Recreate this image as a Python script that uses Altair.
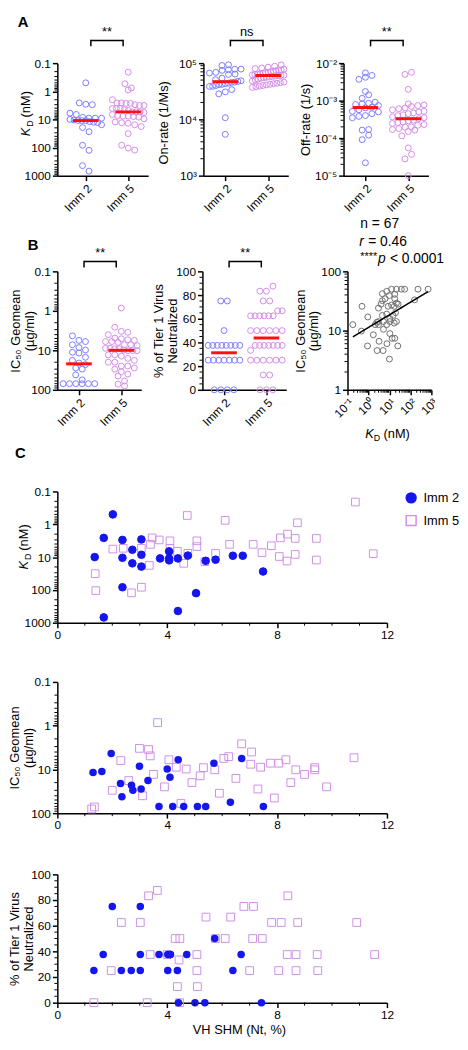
import altair as alt
import numpy as np
import pandas as pd

FONT = "Liberation Sans"
GROUPS = ["Imm 2", "Imm 5"]
BLUE_O = "#7c7cff"
PURP_O = "#d48be8"
BLUE_F = "#1515ee"
PURP_S = "#cf8fe8"
RED = "#ff1010"
GRAY = "#707070"

# ---------------- data ----------------
# Panel C1 (also A1): KD (nM) vs VH SHM (Nt, %)
C1_SHM_IMM2 = [1.36, 1.69, 2.02, 2.37, 2.37, 2.37, 2.73, 2.73, 3.06, 3.06, 3.06, 3.74, 4.07, 4.07, 4.07,
               4.39, 4.75, 5.05, 5.40, 5.76, 6.39, 6.75, 7.49, 1.69, 4.39]
C1_KD_IMM2 = [10, 2.6, 0.5, 3.0, 10.5, 83, 6.0, 15.5, 2.9, 8.5, 19.5, 11, 6.7, 11, 12.6,
              11, 9.0, 126, 13, 12, 9.1, 9.1, 27.5, 690, 440]
C1_SHM_IMM5 = [1.38, 1.40, 2.02, 2.40, 2.70, 3.06, 3.06, 3.35, 3.39, 3.45, 3.71, 4.10, 4.10, 4.37, 4.60,
               4.73, 4.75, 5.08, 5.08, 5.37, 5.76, 6.11, 6.27, 7.13, 7.45, 7.79, 8.08, 8.12, 8.36, 8.38,
               8.66, 8.66, 8.74, 9.43, 9.43, 10.85, 11.5]
C1_KD_IMM5 = [32, 105, 5.7, 5.4, 123, 83, 5.4, 18, 4.1, 2.6, 3.0, 3.2, 5.4, 6.7, 15.5,
              0.54, 7.7, 3.2, 4.8, 13.8, 7.7, 0.76, 4.1, 4.1, 7.3, 4.5, 9.6, 2.6, 13.2, 2.0,
              2.7, 8.3, 0.9, 2.7, 12.3, 0.21, 7.9]

# Panel C2 (also B1): IC50 geomean (ug/ml) vs VH SHM
C2_SHM_IMM2 = [1.30, 1.62, 1.96, 2.30, 2.35, 2.70, 2.75, 2.99, 3.05, 3.30, 3.70, 4.00, 4.10, 4.20, 4.60,
               5.10, 5.40, 5.70, 6.30, 6.71, 7.50, 4.40]
C2_IC_IMM2 = [11.7, 11.2, 4.3, 21, 42, 23, 30, 8.5, 28, 18, 70, 9.8, 15, 70, 70,
              70, 70, 7.2, 56, 5.6, 70, 6.0]
C2_SHM_IMM5 = [2.31, 2.99, 3.32, 3.38, 3.65, 4.06, 4.33, 4.69, 5.32, 5.73, 6.06, 6.24, 6.71, 7.07, 7.04,
               7.40, 7.76, 8.06, 8.32, 8.68, 9.37, 9.37, 10.8,
               1.25, 1.35, 2.00, 2.60, 3.10, 3.50, 3.90, 4.50, 4.90, 5.20, 5.90, 6.50, 7.30, 7.90, 8.50,
               9.00, 9.80]
C2_IC_IMM5 = [6.3, 3.3, 3.5, 4.9, 0.85, 6.0, 8.9, 9.8, 9.1, 10.2, 5.6, 5.1, 2.6, 4.0, 7.6,
              8.9, 7.2, 7.2, 6.0, 10.2, 9.1, 10.2, 5.4,
              80, 72, 30, 18, 40, 13, 25, 60, 20, 14, 35, 16, 28, 45, 20,
              13, 25]

# Panel C3 (also B2): % of Tier 1 virus neutralized vs VH SHM
C3_SHM_IMM2 = [1.33, 1.67, 2.00, 2.33, 2.69, 3.02, 3.02, 3.02, 3.70, 4.02, 4.02, 4.12, 4.37, 4.41, 4.71,
               5.01, 5.37, 5.73, 6.39, 6.69, 7.43, 4.10]
C3_PCT_IMM2 = [25, 37.5, 75, 25, 25, 25, 37.5, 75, 37.5, 25, 37.5, 37.5, 25, 0, 37.5,
               0, 0, 50, 25, 37.5, 0, 37.5]
C3_SHM_IMM5 = [1.33, 1.96, 2.33, 3.02, 3.27, 3.32, 3.64, 3.38, 4.00, 4.29, 4.46, 4.43, 4.37, 5.08, 5.08,
               5.41, 5.75, 6.11, 6.31, 6.79, 7.14, 7.11, 7.46, 7.80, 8.15, 8.39, 8.75, 8.37, 8.69, 9.46,
               8.06, 8.69, 9.48, 10.9, 11.55, 4.45, 5.10, 7.00]
C3_PCT_IMM5 = [0, 25, 62.5, 62.5, 0, 83.3, 87.5, 37.5, 37.5, 50, 50, 33.3, 12.5, 37.5, 25,
               66.7, 50, 50, 66.7, 75, 75, 50, 50, 62.5, 62.5, 83.3, 62.5, 37.5, 37.5, 37.5,
               25, 25, 25, 62.5, 37.5, 0, 12.5, 25]

# Panel A2: on-rate (1/Ms)
ON_IMM2 = [93500, 91000, 78300, 76300, 74300, 78000, 66700, 64000, 68400, 63000, 44000, 43000, 42000, 40000,
           54000, 50800, 47400, 46200, 45600, 48700, 38700, 38500, 41500, 33800, 30800, 28400, 10700, 5430]
ON_IMM5 = [93000, 88000, 85000, 82000, 80000, 78000, 76000, 75000, 73000, 72000, 70000, 69000, 68000, 66000,
           65000, 64000, 63000, 62000, 61000, 60500, 60000, 59000, 58000, 57000, 56000, 55000, 54000, 52000,
           50000, 48000, 46000, 45000, 44000, 43000, 42000, 41000, 40000, 39000, 38000, 37000]

# Panel A3: off-rate (1/s)
OFF_IMM2 = [5.5e-3, 4.2e-3, 3.7e-3, 4.7e-3, 1.75e-3, 1.43e-3, 1.15e-3, 9.1e-4, 8.2e-4, 8.5e-4, 7.9e-4, 7.4e-4,
            6.7e-4, 6.4e-4, 5.7e-4, 5.2e-4, 5.0e-4, 4.5e-4, 4.0e-4, 3.8e-4, 3.5e-4, 1.64e-4, 1.7e-4, 1.2e-4,
            9.1e-5, 2.2e-5]
OFF_IMM5 = [5.7e-3, 5.0e-3, 2.0e-3, 8.2e-4, 7.7e-4, 7.4e-4, 7.0e-4, 6.4e-4, 6.1e-4, 5.7e-4, 5.2e-4, 5.0e-4,
            4.7e-4, 4.5e-4, 4.2e-4, 4.0e-4, 3.7e-4, 3.5e-4, 3.3e-4, 3.0e-4, 2.9e-4, 2.7e-4, 2.6e-4, 2.45e-4,
            2.3e-4, 2.2e-4, 2.0e-4, 1.95e-4, 1.8e-4, 1.7e-4, 1.64e-4, 1.5e-4, 1.15e-4, 5.5e-5, 3.7e-5, 2.8e-5,
            1.0e-5]

# Panel B3: IC50 geomean vs KD
B3_KD = [0.18, 0.49, 0.46, 0.93, 2.1, 2.5, 3.0, 3.0, 4.0, 4.6, 6.2, 4.6, 7.4, 9.8, 12.6, 21.6, 37, 53, 18, 18,
         8.7, 12.6, 17, 21.6, 26, 4.6, 7.4, 10.5, 15, 19.5, 3.0, 5.2, 7.4, 10.5, 17, 21.6, 5.2, 10.5, 13.5, 158,
         229, 700, 3.2, 1.7, 7.6, 5.0, 10, 0.9, 18, 25, 2.6]
B3_IC = [12.6, 25.7, 9.8, 17, 12.6, 13.8, 12.6, 24, 28, 32, 34.5, 42, 46, 39, 50, 50, 50, 50, 41, 34.5,
         25.7, 27, 25.7, 29, 28, 18, 19, 16, 18, 20, 14.2, 14.2, 12.6, 14.2, 13.4, 14.2, 10.5, 8.9, 7.4, 33,
         50, 50, 6.6, 8.5, 6.0, 4.6, 3.3, 5.5, 7.4, 5.5, 4.6]

SIG_A = ["**", "ns", "**"]
SIG_B = ["**", "**"]
STATS = ["n = 67", "r", "= 0.46", "****", "p", "< 0.0001"]

# ---------------- helpers ----------------
XDOM = [0.49, 2.47]
XDOM_A1 = [0.33, 2.47]
BR = 0.12


def minors(decades):
    out = []
    for d in decades:
        out += [k * 10.0 ** d for k in range(2, 10)]
    return out


def txt(s, x, y, size=13, angle=None, align="left", baseline="middle", style="normal", weight="normal"):
    kw = dict(align=align, baseline=baseline, fontSize=size, fontStyle=style, fontWeight=weight,
              font=FONT, color="black")
    if angle is not None:
        kw["angle"] = angle
    return alt.Chart(pd.DataFrame({"t": [s]})).mark_text(**kw).encode(
        text="t:N", x=alt.value(x), y=alt.value(y))


def swarm(vals, log, ppu, x_ppu, diam=6.6, maxw=32.0):
    v = np.asarray(vals, float)
    pix = (np.log10(v) if log else v) * ppu
    order = np.argsort(pix, kind="stable")
    rows, cur, start = [], [], None
    for i in order:
        if cur and pix[i] - start < diam * 0.9:
            cur.append(i)
        else:
            if cur:
                rows.append(cur)
            cur, start = [i], pix[i]
    rows.append(cur)
    off = np.zeros(len(v))
    for r in rows:
        n = len(r)
        step = min(diam, maxw / max(n - 1, 1))
        for j, i in enumerate(r):
            off[i] = (j - (n - 1) / 2.0) * step / x_ppu
    return off


def yaxis(values, label_expr=None, min_ext=None, title=None, title_x=None, title_y=None, multi=False):
    kw = dict(values=values, labelOverlap=False, title=title)
    if label_expr:
        kw["labelExpr"] = label_expr
    if min_ext is not None:
        kw["minExtent"] = min_ext
    if title is not None:
        kw.update(titleX=title_x, titleY=title_y, titleAngle=270,
                  titleBaseline="top" if multi else "bottom", titleAlign="center", titleLineHeight=14)
    return alt.Axis(**kw)


def cat_axis():
    return alt.Axis(values=[1, 2], labelExpr="datum.value == 1 ? 'Imm 2' : 'Imm 5'", labelAngle=-45,
                    title=None, minExtent=38, labelOverlap=False)


def dot_panel(v2, v5, yscale, yax, ppu, log, minor, width, height, sig, br_y, xdom=XDOM, extras=()):
    x_ppu = width / (xdom[1] - xdom[0])
    xs = alt.Scale(domain=xdom, nice=False, zero=False)
    o2 = swarm(v2, log, ppu, x_ppu)
    o5 = swarm(v5, log, ppu, x_ppu)
    df = pd.DataFrame({
        "grp": ["Imm 2"] * len(v2) + ["Imm 5"] * len(v5),
        "gi": [1] * len(v2) + [2] * len(v5),
        "val": list(v2) + list(v5),
        "off": list(o2) + list(o5),
    })
    xa = cat_axis()

    def X(f):
        return alt.X(f, scale=xs, axis=xa)

    def Y(f):
        return alt.Y(f, scale=yscale, axis=yax)

    pts = alt.Chart(df).transform_calculate(xj="datum.gi + datum.off").mark_point(
        shape="circle", filled=False, size=36, strokeWidth=1, opacity=1).encode(
        x=X("xj:Q"), y=Y("val:Q"),
        color=alt.Color("grp:N", scale=alt.Scale(domain=GROUPS, range=[BLUE_O, PURP_O]), legend=None))
    med = alt.Chart(df).transform_aggregate(med="median(val)", groupby=["gi"]).mark_tick(
        color=RED, thickness=3, size=26, orient="horizontal", opacity=1).encode(x=X("gi:Q"), y=Y("med:Q"))
    mn = alt.Chart(pd.DataFrame({"m": minor})).mark_rule(color="black", strokeWidth=1).encode(
        y=Y("m:Q"), x=alt.value(-3), x2=alt.value(0))
    bdf = pd.DataFrame({"a": [1 + BR], "b": [2 - BR], "c": [1.5], "t": [sig]})
    br = alt.Chart(bdf).mark_rule(color="black", strokeWidth=1.5).encode(x=X("a:Q"), x2="b:Q", y=alt.value(br_y))
    brl = alt.Chart(bdf).mark_rule(color="black", strokeWidth=1.5).encode(
        x=X("a:Q"), y=alt.value(br_y - 0.7), y2=alt.value(br_y + 6))
    brr = alt.Chart(bdf).mark_rule(color="black", strokeWidth=1.5).encode(
        x=X("b:Q"), y=alt.value(br_y - 0.7), y2=alt.value(br_y + 6))
    st = alt.Chart(bdf).mark_text(baseline="bottom", fontSize=13, font=FONT, color="black").encode(
        x=X("c:Q"), y=alt.value(br_y - 2), text="t:N")
    return alt.layer(pts, med, mn, br, brl, brr, st, *extras).properties(width=width, height=height)


LOG_DEC = "datum.value < 0.5 ? '0.1' : format(datum.value, 'd')"
LEFT = 50  # left extent reserved by every first-column panel

# ---------------- row A ----------------
HA = 114
a1 = dot_panel(
    C1_KD_IMM2, C1_KD_IMM5,
    alt.Scale(type="log", domain=[0.1, 1000], reverse=True, nice=False),
    yaxis([0.1, 1, 10, 100, 1000], LOG_DEC, min_ext=LEFT),
    HA / 4.0, True, minors([-1, 0, 1, 2]), 92, HA, SIG_A[0], -23, xdom=XDOM_A1,
    extras=[txt("A", -40, -49, size=15, weight="bold", baseline="top"),
            txt("K", -32, 74, size=13, angle=270, style="italic"),
            txt("D", -27.5, 64.5, size=9, angle=270),
            txt("(nM)", -32, 55, size=13, angle=270)])
a2 = dot_panel(
    ON_IMM2, ON_IMM5,
    alt.Scale(type="log", domain=[1e3, 1e5], nice=False),
    yaxis([1e3, 1e4, 1e5], "datum.value > 5e4 ? '10⁵' : datum.value > 5e3 ? '10⁴' : '10³'",
          title="On-rate (1/Ms)", title_x=-33, title_y=60),
    HA / 2.0, True, minors([3, 4]), 86, HA, SIG_A[1], -23)
a3 = dot_panel(
    OFF_IMM2, OFF_IMM5,
    alt.Scale(type="log", domain=[1e-5, 1e-2], nice=False),
    yaxis([1e-5, 1e-4, 1e-3, 1e-2],
          "datum.value > 5e-3 ? '10⁻²' : datum.value > 5e-4 ? '10⁻³' : datum.value > 5e-5 ? '10⁻⁴' : '10⁻⁵'",
          title="Off-rate (1/s)", title_x=-31, title_y=57),
    HA / 3.0, True, minors([-5, -4, -3]), 86, HA, SIG_A[2], -23)
rowA = alt.hconcat(a1, a2, a3, spacing=56, bounds="flush")

# ---------------- row B ----------------
HB = 120
b1 = dot_panel(
    C2_IC_IMM2, C2_IC_IMM5,
    alt.Scale(type="log", domain=[0.1, 100], reverse=True, nice=False),
    yaxis([0.1, 1, 10, 100], LOG_DEC, min_ext=LEFT, title=["IC₅₀ Geomean", "(µg/ml)"], title_x=-48,
          title_y=HB / 2, multi=True),
    HB / 3.0, True, minors([-1, 0, 1]), 85, HB, SIG_B[0], -10,
    extras=[txt("B", -30, -34, size=15, weight="bold", baseline="top")])
b2 = dot_panel(
    C3_PCT_IMM2, C3_PCT_IMM5,
    alt.Scale(domain=[0, 100], nice=False),
    yaxis([0, 20, 40, 60, 80, 100], title=["% of Tier 1 Virus", "Neutralized"], title_x=-50,
          title_y=HB / 2, multi=True),
    HB / 100.0, False, [v for v in range(5, 100, 5) if v % 20], 85, HB, SIG_B[1], -10)

WB3 = 85
b3df = pd.DataFrame({"kd": B3_KD, "ic": B3_IC})
xs3 = alt.Scale(type="log", domain=[0.1, 1000], nice=False)
ys3 = alt.Scale(type="log", domain=[1, 100], nice=False)
xa3 = alt.Axis(values=[0.1, 1, 10, 100, 1000], labelAngle=-45, title=None, labelOverlap=False,
               labelExpr="datum.value < 0.5 ? '10⁻¹' : datum.value < 5 ? '10⁰' : datum.value < 50 ? '10¹' : datum.value < 500 ? '10²' : '10³'")
ya3 = yaxis([1, 10, 100], "format(datum.value, 'd')", title=["IC₅₀ Geomean", "(µg/ml)"],
            title_x=-54, title_y=HB / 2, multi=True)
b3_pts = alt.Chart(b3df).mark_point(shape="circle", filled=False, size=36, strokeWidth=1, color=GRAY,
                                    opacity=1).encode(
    x=alt.X("kd:Q", scale=xs3, axis=xa3), y=alt.Y("ic:Q", scale=ys3, axis=ya3))
b3_reg = alt.Chart(b3df).transform_regression("kd", "ic", method="pow").mark_line(
    color="black", strokeWidth=1.5).encode(
    x=alt.X("kd:Q", scale=xs3, axis=xa3), y=alt.Y("ic:Q", scale=ys3, axis=ya3))
b3_minx = alt.Chart(pd.DataFrame({"m": minors([-1, 0, 1, 2])})).mark_rule(color="black", strokeWidth=1).encode(
    x=alt.X("m:Q", scale=xs3, axis=xa3), y=alt.value(HB), y2=alt.value(HB + 3))
b3_miny = alt.Chart(pd.DataFrame({"m": minors([0, 1])})).mark_rule(color="black", strokeWidth=1).encode(
    y=alt.Y("m:Q", scale=ys3, axis=ya3), x=alt.value(-3), x2=alt.value(0))
b3 = alt.layer(
    b3_pts, b3_reg, b3_minx, b3_miny,
    txt(STATS[0], 13, -48, size=14),
    txt(STATS[1], 12, -30, size=14, style="italic"),
    txt(STATS[2], 21, -30, size=14),
    txt(STATS[3], 13, -15, size=11),
    txt(STATS[4], 31, -12, size=14, style="italic"),
    txt(STATS[5], 43, -12, size=14),
    txt("K", 18, HB + 45, size=13, style="italic"),
    txt("D", 26.7, HB + 48.5, size=9),
    txt("(nM)", 36.5, HB + 45, size=13),
).properties(width=WB3, height=HB)
rowB = alt.hconcat(b1, b2, b3, spacing=62, bounds="flush")

# ---------------- panel C ----------------
WC = 334
HC = 133
HC3 = 130
CXS = alt.Scale(domain=[0, 12], nice=False, zero=False)
C_MINOR_X = [1, 2, 3, 5, 6, 7, 9, 10, 11]


def c_xaxis(min_ext, title=None):
    kw = dict(values=[0, 4, 8, 12], format="d", labelFlush=False, labelOverlap=False, minExtent=min_ext,
              title=title)
    if title is not None:
        kw.update(titleX=184, titleY=21, titleBaseline="top", titleAlign="center")
    return alt.Axis(**kw)


def c_panel(shm2, v2, shm5, v5, yscale, yax, minor_y, xax, height, legend=False, extras=()):
    def X(f):
        return alt.X(f, scale=CXS, axis=xax)

    def Y(f):
        return alt.Y(f, scale=yscale, axis=yax)

    layers = []
    if legend:
        df = pd.DataFrame({"grp": ["Imm 5"] * len(v5) + ["Imm 2"] * len(v2),
                           "shm": list(shm5) + list(shm2), "val": list(v5) + list(v2)})
        leg = alt.Legend(title=None, orient="right", offset=18, symbolSize=100,
                         labelFontSize=13, labelFont=FONT, labelColor="black", symbolStrokeWidth=1.5,
                         rowPadding=6, labelOffset=6, padding=0)
        layers.append(alt.Chart(df).mark_point(size=60, strokeWidth=1, opacity=1).encode(
            x=X("shm:Q"), y=Y("val:Q"),
            shape=alt.Shape("grp:N", scale=alt.Scale(domain=GROUPS, range=["circle", "square"]), legend=leg),
            fill=alt.Fill("grp:N", scale=alt.Scale(domain=GROUPS, range=[BLUE_F, "transparent"]), legend=leg),
            stroke=alt.Stroke("grp:N", scale=alt.Scale(domain=GROUPS, range=[BLUE_F, PURP_S]), legend=leg)))
    else:
        d5 = pd.DataFrame({"shm": shm5, "val": v5})
        d2 = pd.DataFrame({"shm": shm2, "val": v2})
        layers.append(alt.Chart(d5).mark_point(shape="square", filled=False, size=62, strokeWidth=1,
                                               color=PURP_S, opacity=1).encode(x=X("shm:Q"), y=Y("val:Q")))
        layers.append(alt.Chart(d2).mark_point(shape="circle", filled=True, size=58, color=BLUE_F,
                                               opacity=1).encode(x=X("shm:Q"), y=Y("val:Q")))
    layers.append(alt.Chart(pd.DataFrame({"m": minor_y})).mark_rule(color="black", strokeWidth=1).encode(
        y=Y("m:Q"), x=alt.value(-3), x2=alt.value(0)))
    layers.append(alt.Chart(pd.DataFrame({"m": C_MINOR_X})).mark_rule(color="black", strokeWidth=1).encode(
        x=X("m:Q"), y=alt.value(height), y2=alt.value(height + 3)))
    return alt.layer(*layers, *extras).properties(width=WC, height=height)


c1 = c_panel(C1_SHM_IMM2, C1_KD_IMM2, C1_SHM_IMM5, C1_KD_IMM5,
             alt.Scale(type="log", domain=[0.1, 1000], reverse=True, nice=False),
             yaxis([0.1, 1, 10, 100, 1000], LOG_DEC, min_ext=LEFT),
             minors([-1, 0, 1, 2]), c_xaxis(51), HC, legend=True,
             extras=[txt("C", -43, -46, size=15, weight="bold", baseline="top"),
                     txt("K", -34, 79, size=13, angle=270, style="italic"),
                     txt("D", -29.5, 69.5, size=9, angle=270),
                     txt("(nM)", -34, 60, size=13, angle=270)])
c2 = c_panel(C2_SHM_IMM2, C2_IC_IMM2, C2_SHM_IMM5, C2_IC_IMM5,
             alt.Scale(type="log", domain=[0.1, 100], reverse=True, nice=False),
             yaxis([0.1, 1, 10, 100], LOG_DEC, min_ext=LEFT, title=["IC₅₀ Geomean", "(µg/ml)"], title_x=-49,
                   title_y=HC / 2, multi=True),
             minors([-1, 0, 1]), c_xaxis(53), HC)
c3 = c_panel(C3_SHM_IMM2, C3_PCT_IMM2, C3_SHM_IMM5, C3_PCT_IMM5,
             alt.Scale(domain=[0, 100], nice=False),
             yaxis([0, 20, 40, 60, 80, 100], min_ext=LEFT, title=["% of Tier 1 Virus", "Neutralized"],
                   title_x=-49, title_y=HC3 / 2, multi=True),
             [v for v in range(5, 100, 5) if v % 20], c_xaxis(20, title="VH SHM (Nt, %)"), HC3)

chart = alt.vconcat(rowA, rowB, c1, c2, c3, spacing=3).resolve_scale(
    shape="independent", fill="independent", stroke="independent").resolve_legend(
    shape="independent", fill="independent", stroke="independent").properties(padding=0).configure(
    font=FONT).configure_view(stroke=None).configure_axis(
    labelFont=FONT, titleFont=FONT, labelFontSize=12, titleFontSize=13, labelColor="black",
    titleColor="black", domainColor="black", tickColor="black", domainWidth=1.5, tickWidth=1.5,
    tickSize=5, grid=False, labelPadding=2, titleFontWeight="normal", labelFlush=False)

chart.save("out.html", embed_options={"renderer": "svg", "actions": False})
